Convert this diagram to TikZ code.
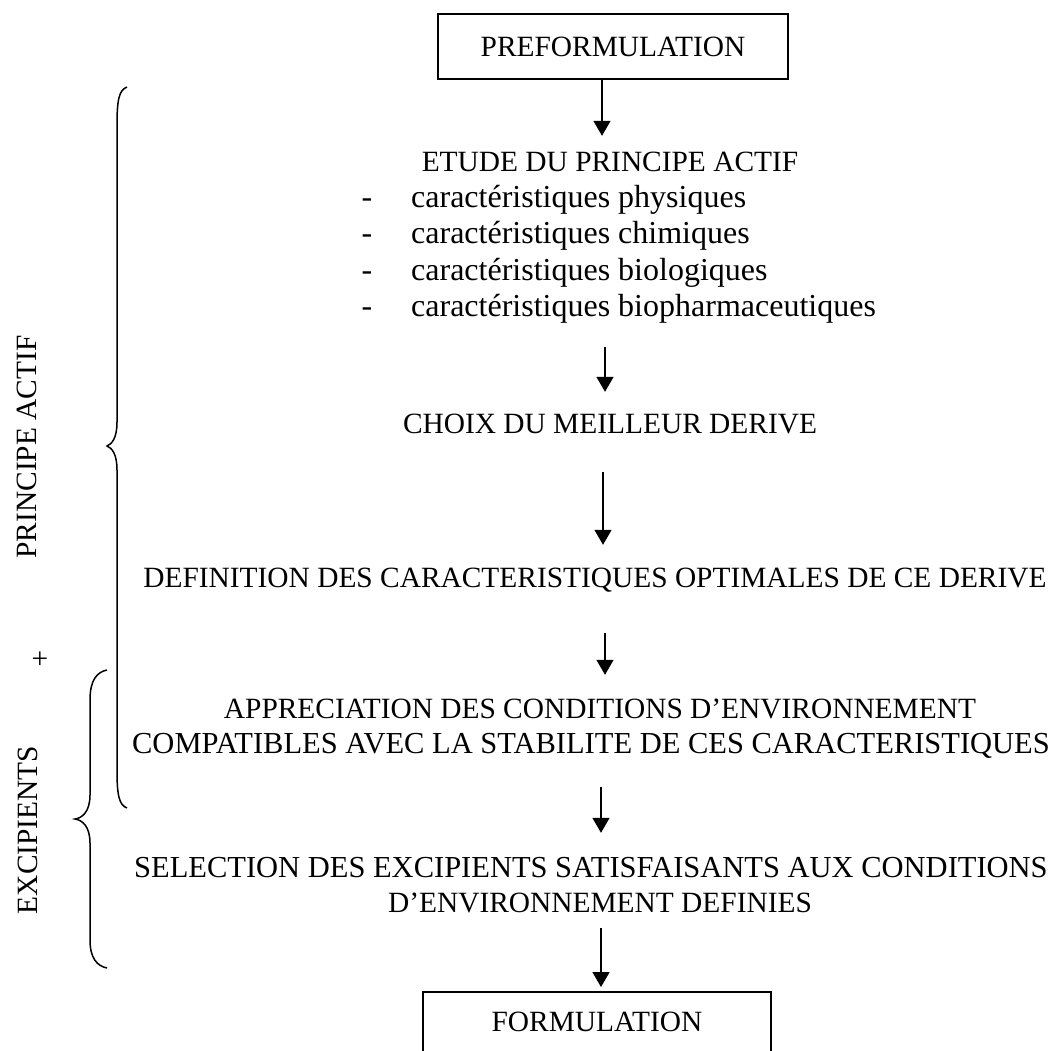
\documentclass[tikz,border=0pt]{standalone}
\usepackage{fontspec}
\setmainfont{Liberation Serif}
\usetikzlibrary{arrows.meta}
\tikzset{
  txt/.style={inner sep=0pt, anchor=base, text height=20pt, text depth=0pt, font=\fontsize{29.4}{35}\selectfont},
  wtxt/.style={txt, font=\fontsize{30.5}{35}\selectfont},
  ltxt/.style={txt, anchor=base west, font=\fontsize{32}{36}\selectfont},
  boxnode/.style={draw, line width=1.5pt, inner xsep=0pt, font=\fontsize{29.4}{35}\selectfont, text height=20pt, text depth=0pt},
  arr/.style={line width=1.5pt, -{Triangle[length=15pt,width=17pt]}},
  brace/.style={line width=1.5pt},
}
\begin{document}
\begin{tikzpicture}[x=1pt,y=-1pt]
\useasboundingbox (0,0) rectangle (1051,1050);
\clip (0,0) rectangle (1051,1050);
% boxes
\node[boxnode, inner ysep=22.5pt, minimum width=350pt] (pre) at (613,46.5) {PREFORMULATION};
\node[boxnode, anchor=north, inner ysep=20pt, text depth=70pt, minimum width=348pt] (form) at (597,991) {FORMULATION};
% texts
\node[txt] (etude) at (610,171) {ETUDE DU PRINCIPE ACTIF};
\node[ltxt, anchor=base] (d1) at (367,207) {-};
\node[ltxt] (l1) at (411,207) {caractéristiques physiques};
\node[ltxt, anchor=base] (d2) at (367,243) {-};
\node[ltxt] (l2) at (411,243) {caractéristiques chimiques};
\node[ltxt, anchor=base] (d3) at (367,280) {-};
\node[ltxt] (l3) at (411,280) {caractéristiques biologiques};
\node[ltxt, anchor=base] (d4) at (367,316) {-};
\node[ltxt] (l4) at (411,316) {caractéristiques biopharmaceutiques};
\node[txt] (choix) at (610,433) {CHOIX DU MEILLEUR DERIVE};
\node[txt] (def) at (595,587) {DEFINITION DES CARACTERISTIQUES OPTIMALES DE CE DERIVE};
\node[txt] (app1) at (600,718) {APPRECIATION DES CONDITIONS D’ENVIRONNEMENT};
\node[wtxt] (app2) at (591,753) {COMPATIBLES AVEC LA STABILITE DE CES CARACTERISTIQUES};
\node[wtxt] (sel1) at (591,877) {SELECTION DES EXCIPIENTS SATISFAISANTS AUX CONDITIONS};
\node[txt] (sel2) at (600,912) {D’ENVIRONNEMENT DEFINIES};
% side labels
\node[txt, anchor=center, rotate=90] (lpa) at (26,447) {PRINCIPE ACTIF};
\node[txt, anchor=center, rotate=90] (lex) at (27,830) {EXCIPIENTS};
\node[txt, anchor=center] (plus) at (40,658) {+};
% arrow x positions
\coordinate (x1) at (602,0);
\coordinate (x2) at (605,0);
\coordinate (x3) at (603,0);
\coordinate (x4) at (605,0);
\coordinate (x5) at (601,0);
\coordinate (x6) at (601,0);
% arrows
\draw[arr, shorten >=15pt] (pre.south -| x1) -- (etude.north -| x1);
\draw[arr, shorten <=31pt, shorten >=21pt] (l4.south -| x2) -- (choix.north -| x2);
\draw[arr, shorten <=39pt, shorten >=22pt] (choix.south -| x3) -- (def.north -| x3);
\draw[arr, shorten <=46pt, shorten >=23pt] (def.south -| x4) -- (app1.north -| x4);
\draw[arr, shorten <=34pt, shorten >=24pt] (app2.south -| x5) -- (sel1.north -| x5);
\draw[arr, shorten <=16pt, shorten >=4pt] (sel2.south -| x6) -- (form.north -| x6);
% braces
\draw[brace] (127,87) .. controls (119,90) and (117,100) .. (117,125) -- (117,422)
  .. controls (117,438) and (112,444) .. (107,446)
  .. controls (112,448) and (117,454) .. (117,470) -- (117,770)
  .. controls (117,795) and (119,805) .. (127,808);
\draw[brace] (107,670) .. controls (97,672) and (90,680) .. (90,700) -- (90,795)
  .. controls (90,812) and (82,818) .. (75,819)
  .. controls (82,820) and (90,826) .. (90,843) -- (90,940)
  .. controls (90,958) and (97,966) .. (107,968);
\end{tikzpicture}
\end{document}
